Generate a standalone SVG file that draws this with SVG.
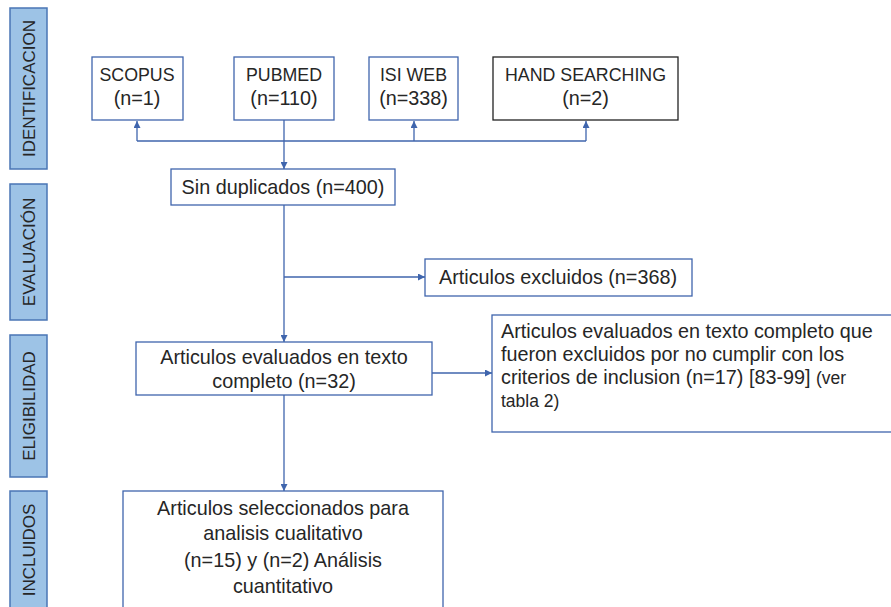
<svg xmlns="http://www.w3.org/2000/svg" width="891" height="607" viewBox="0 0 891 607">
<defs>
<style>
.side{fill:#9dc3e6;stroke:#4a76b5;stroke-width:1.5}
.st{font-family:"Liberation Sans",Arial,sans-serif;font-size:17px;fill:#262626;text-anchor:middle}
.box{fill:#fff;stroke:#3f65ad;stroke-width:1.3}
.boxk{fill:#fff;stroke:#222;stroke-width:1.3}
.t{font-family:"Liberation Sans",Arial,sans-serif;font-size:19.8px;fill:#262626;text-anchor:middle}
.tl{font-family:"Liberation Sans",Arial,sans-serif;font-size:19.8px;fill:#262626}
.cap{font-size:17.8px}
.sm{font-size:17.5px}
.ln{fill:none;stroke:#3f65ad;stroke-width:1.3}
</style>
<marker id="ah" viewBox="0 0 10 10" refX="10" refY="5" markerWidth="7" markerHeight="7" orient="auto" markerUnits="userSpaceOnUse">
<path d="M0,0 L10,5 L0,10 z" fill="#3f65ad"/>
</marker>
</defs>
<rect width="891" height="607" fill="#fff"/>
<g id="stage-identificacion">
<rect class="side" x="10" y="8" width="37" height="161"/>
<text class="st" transform="translate(35,88.5) rotate(-90)">IDENTIFICACION</text>
</g>
<g id="stage-evaluacion">
<rect class="side" x="10" y="184" width="37" height="136"/>
<text class="st" transform="translate(35,252) rotate(-90)">EVALUACIÓN</text>
</g>
<g id="stage-elegibilidad">
<rect class="side" x="10" y="335" width="37" height="142"/>
<text class="st" transform="translate(35,406) rotate(-90)">ELIGIBILIDAD</text>
</g>
<g id="stage-incluidos">
<rect class="side" x="10" y="491" width="37" height="120"/>
<text class="st" transform="translate(35,550) rotate(-90)">INCLUIDOS</text>
</g>
<g id="scopus">
<rect class="box" x="92" y="57" width="91" height="63"/>
<text class="t cap" x="137" y="81">SCOPUS</text>
<text class="t" x="137" y="105">(n=1)</text>
</g>
<g id="pubmed">
<rect class="box" x="234" y="57" width="100" height="63"/>
<text class="t cap" x="284" y="81">PUBMED</text>
<text class="t" x="284" y="105">(n=110)</text>
</g>
<g id="isiweb">
<rect class="box" x="369" y="57" width="89" height="63"/>
<text class="t cap" x="413.5" y="81">ISI WEB</text>
<text class="t" x="413.5" y="105">(n=338)</text>
</g>
<g id="hand">
<rect class="boxk" x="493" y="57" width="185" height="63"/>
<text class="t cap" x="585.5" y="81">HAND SEARCHING</text>
<text class="t" x="585.5" y="105">(n=2)</text>
</g>
<g id="sindup">
<rect class="box" x="171" y="169" width="224" height="36"/>
<text class="t" x="283" y="194">Sin duplicados (n=400)</text>
</g>
<g id="excluidos">
<rect class="box" x="425" y="259" width="267" height="37"/>
<text class="t" x="558" y="284">Articulos excluidos (n=368)</text>
</g>
<g id="evaluados">
<rect class="box" x="136" y="342" width="296" height="53"/>
<text class="t" x="284" y="364">Articulos evaluados en texto</text>
<text class="t" x="284" y="388">completo (n=32)</text>
</g>
<g id="excl-texto">
<rect class="box" x="492" y="315" width="405" height="117"/>
<text class="tl" x="501" y="338">Articulos evaluados en texto completo que</text>
<text class="tl" x="501" y="361">fueron excluidos por no cumplir con los</text>
<text class="tl" x="501" y="384">criterios de inclusion (n=17) [83-99] <tspan class="sm">(ver</tspan></text>
<text class="tl sm" x="501" y="407">tabla 2)</text>
</g>
<g id="seleccionados">
<rect class="box" x="123" y="491" width="320" height="125"/>
<text class="t" x="283" y="515">Articulos seleccionados para</text>
<text class="t" x="283" y="540">analisis cualitativo</text>
<text class="t" x="283" y="567">(n=15) y (n=2) Análisis</text>
<text class="t" x="283" y="593">cuantitativo</text>
</g>
<g id="connectors">
<path class="ln" d="M137,141 H586"/>
<path class="ln" d="M137,141 V121" marker-end="url(#ah)"/>
<path class="ln" d="M414,141 V121" marker-end="url(#ah)"/>
<path class="ln" d="M586,141 V121" marker-end="url(#ah)"/>
<path class="ln" d="M284,120 V169" marker-end="url(#ah)"/>
<path class="ln" d="M284,205 V342" marker-end="url(#ah)"/>
<path class="ln" d="M284,277 H425" marker-end="url(#ah)"/>
<path class="ln" d="M432,373 H492" marker-end="url(#ah)"/>
<path class="ln" d="M284,395 V491" marker-end="url(#ah)"/>
</g>
</svg>
